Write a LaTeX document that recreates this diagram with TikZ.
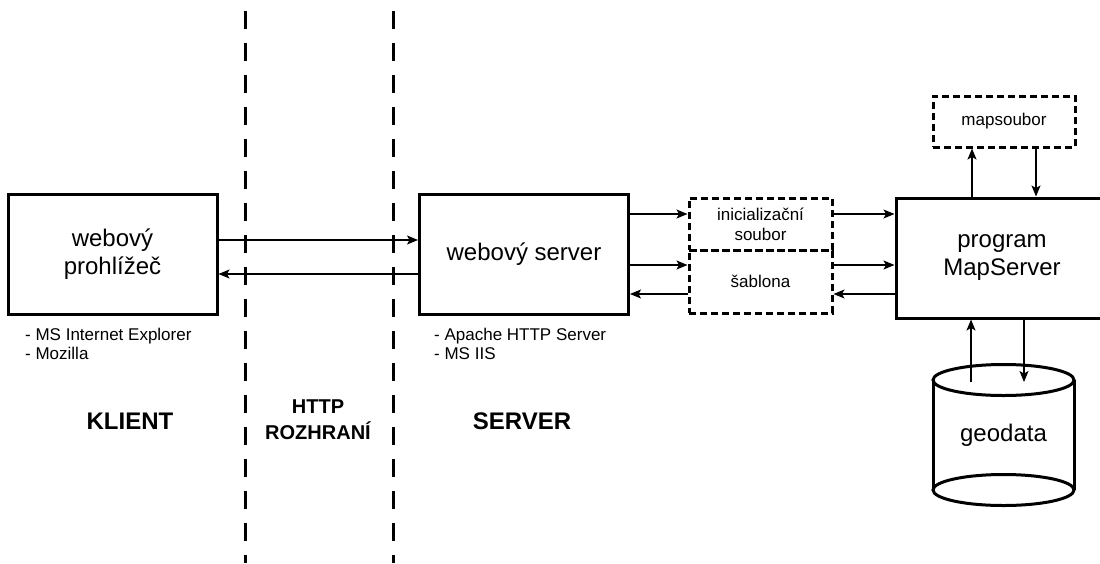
\documentclass[tikz,border=0pt]{standalone}
\usepackage{fontspec}
\setmainfont{Liberation Sans}
\usetikzlibrary{arrows.meta}

\begin{document}
\begin{tikzpicture}[x=1pt,y=-1pt,
  box/.style={draw,line width=3pt,minimum width=209pt,minimum height=120pt,
    align=center,inner sep=0pt,font=\fontsize{24}{28}\selectfont},
  dbox/.style={draw,line width=3pt,dash pattern=on 7pt off 4pt,inner sep=0pt,
    align=center,font=\fontsize{17}{20}\selectfont},
  conn/.style={line width=1.2pt,-{Stealth[length=11pt,width=9pt,inset=2.5pt]}},
  divider/.style={line width=3pt,dash pattern=on 18pt off 14pt},
  note/.style={anchor=west,align=left,inner sep=0pt,font=\fontsize{17}{18.5}\selectfont},
  zone/.style={align=center,inner sep=0pt,font=\bfseries\fontsize{24}{28}\selectfont},
  zonesmall/.style={align=center,inner sep=0pt,font=\bfseries\fontsize{20}{26}\selectfont}
]
\useasboundingbox (0,0) rectangle (1100,563);

% zone dividers
\draw[divider] (245,11) -- (245,563);
\draw[divider] (393,11) -- (393,563);

% main components
\node[box] (klient) at (112.5,254.5) {webový\\prohlížeč};
\node[box] (server) at (524,254) {webový server};
\node[box, minimum width=212pt] (ms) at (1002,258) {program\\MapServer};

% configuration files
\node[dbox, minimum width=143pt, minimum height=52pt] (init) at (760.5,224) {inicializační\\soubor};
\node[dbox, minimum width=143pt, minimum height=63pt] (sablona) at (760.5,281.5) {šablona};
\node[dbox, minimum width=142pt, minimum height=51pt] (mapfile) at (1004,121.5) {mapsoubor};

% geodata store
\draw[line width=3pt] (933,380) -- (933,490) (1074,380) -- (1074,490);
\draw[line width=3pt] (1003.5,380) ellipse [x radius=70.5, y radius=15.5];
\draw[line width=3pt] (1003.5,490) ellipse [x radius=70.5, y radius=15.5];
\coordinate (dbtop) at (1003.5,382);
\node[font=\fontsize{24}{28}\selectfont, inner sep=0pt] (geodata) at (1003.5,435) {geodata};

% notes and zone labels
\node[note] (klientnote) at (25,344) {- MS Internet Explorer\\- Mozilla};
\node[note] (servernote) at (434,344) {- Apache HTTP Server\\- MS IIS};
\node[zone] (klientlbl) at (130,421) {KLIENT};
\node[zone] (serverlbl) at (522,421) {SERVER};
\node[zonesmall] (httplbl) at (318,420) {HTTP\\ROZHRANÍ};

% client <-> server
\draw[conn] ([yshift=14.5pt]klient.east) -- ([yshift=14.5pt]klient.east -| server.west);
\draw[conn] ([yshift=-20pt]server.west) -- ([yshift=-20pt]server.west -| klient.east);

% server <-> files
\draw[conn] ([yshift=40pt]server.east) -- ([yshift=40pt]server.east -| init.west);
\draw[conn] ([yshift=-11pt]server.east) -- ([yshift=-11pt]server.east -| sablona.west);
\draw[conn] ([yshift=-12.5pt]sablona.west) -- ([yshift=-12.5pt]sablona.west -| server.east);

% files <-> MapServer
\draw[conn] ([yshift=10pt]init.east) -- ([yshift=10pt]init.east -| ms.west);
\draw[conn] ([yshift=16.5pt]sablona.east) -- ([yshift=16.5pt]sablona.east -| ms.west);
\draw[conn] ([yshift=-36pt]ms.west) -- ([yshift=-36pt]ms.west -| sablona.east);

% MapServer <-> map file
\draw[conn] ([xshift=-30pt]ms.north) -- ([xshift=-30pt]ms.north |- mapfile.south);
\draw[conn] ([xshift=32pt]mapfile.south) -- ([xshift=32pt]mapfile.south |- ms.north);

% MapServer <-> geodata
\draw[conn] ([xshift=-32.5pt]dbtop) -- ([xshift=-32.5pt]dbtop |- ms.south);
\draw[conn] ([xshift=22pt]ms.south) -- ([xshift=22pt]ms.south |- dbtop);
\end{tikzpicture}
\end{document}
